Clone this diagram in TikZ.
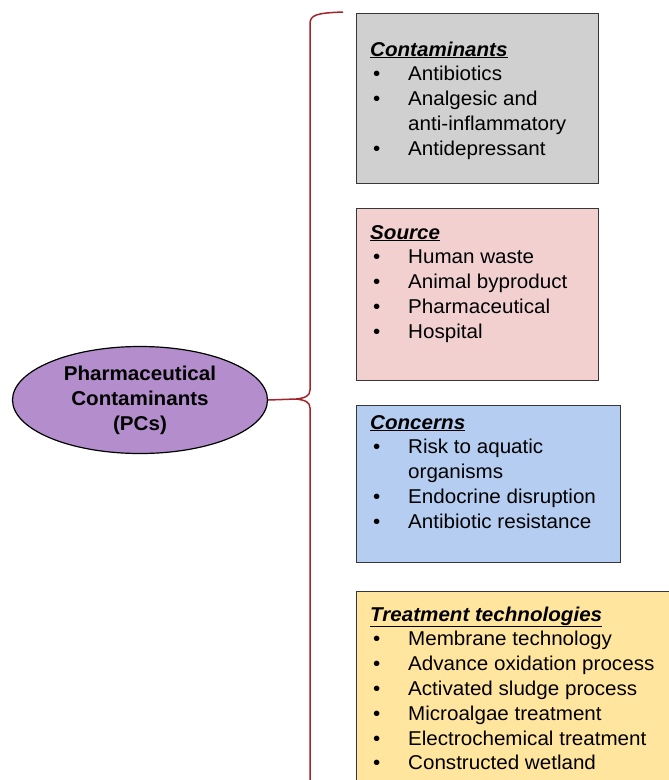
\documentclass[tikz,border=0pt]{standalone}
\usepackage{fontspec}
\setmainfont{Liberation Sans}[FakeStretch=1.03]
\usetikzlibrary{positioning,shapes.geometric}

\definecolor{pcpurple}{RGB}{179,141,204}
\definecolor{boxgray}{RGB}{208,208,208}
\definecolor{boxpink}{RGB}{242,208,208}
\definecolor{boxblue}{RGB}{180,205,240}
\definecolor{boxyellow}{RGB}{255,229,158}
\definecolor{bracered}{RGB}{163,36,42}
\definecolor{edgegray}{RGB}{55,55,55}

\newcommand{\btitle}[1]{\underline{\textbf{\textit{#1}}}\par}
\newcommand{\bitem}[1]{\hspace*{3pt}\makebox[35pt][l]{\textbullet}#1\par}
\newcommand{\bmore}[1]{\hspace*{38pt}#1\par}

\tikzset{
  catbox/.style={draw=edgegray, line width=1.4pt, anchor=north west, inner sep=0pt},
  cattext/.style={anchor=base west, inner sep=0pt, font=\fontsize{20}{24.8}\selectfont},
  brace/.style={draw=bracered, line width=1.5pt}
}

\begin{document}
\begin{tikzpicture}[x=1pt,y=-1pt]

    \useasboundingbox (0,0) rectangle (669,780);
    \clip (0,0) rectangle (669,780); %page frame

    % central ellipse
    \node[ellipse, draw, line width=1.2pt, fill=pcpurple, minimum width=255pt,
          minimum height=107pt, inner sep=0pt, align=center,
          font=\bfseries\fontsize{20}{25}\selectfont] (pc) at (140,400)
      {Pharmaceutical\\Contaminants\\(PCs)};

    % category boxes
    \node[catbox, fill=boxgray, minimum width=242pt, minimum height=170pt] (contam) at (356,13) {};
    \node[catbox, fill=boxpink, minimum width=242pt, minimum height=172pt] (source) at (356,208) {};
    \node[catbox, fill=boxblue, minimum width=264pt, minimum height=157pt] (concern) at (356,405) {};
    \node[catbox, fill=boxyellow, minimum width=340pt, minimum height=220pt] (treat) at (356,591) {};

    \node[cattext] (contamtxt) at ([xshift=14pt,yshift=-43pt]contam.north west)
      {\parbox[t]{230pt}{\btitle{Contaminants}
        \bitem{Antibiotics}
        \bitem{Analgesic and}
        \bmore{anti-inflammatory}
        \bitem{Antidepressant}}};

    \node[cattext] (sourcetxt) at ([xshift=14pt,yshift=-31pt]source.north west)
      {\parbox[t]{230pt}{\btitle{Source}
        \bitem{Human waste}
        \bitem{Animal byproduct}
        \bitem{Pharmaceutical}
        \bitem{Hospital}}};

    \node[cattext] (concerntxt) at ([xshift=14pt,yshift=-24pt]concern.north west)
      {\parbox[t]{250pt}{\btitle{Concerns}
        \bitem{Risk to aquatic}
        \bmore{organisms}
        \bitem{Endocrine disruption}
        \bitem{Antibiotic resistance}}};

    \node[cattext] (treattxt) at ([xshift=14pt,yshift=-30pt]treat.north west)
      {\parbox[t]{300pt}{\btitle{Treatment technologies}
        \bitem{Membrane technology}
        \bitem{Advance oxidation process}
        \bitem{Activated sludge process}
        \bitem{Microalgae treatment}
        \bitem{Electrochemical treatment}
        \bitem{Constructed wetland}}};

    % curly brace from ellipse to boxes
    \coordinate (tip) at (296,399);
    \coordinate (bracetop) at (343,12);
    \coordinate (bracebot) at (310,800);
    \draw[brace] (pc.east) -- (tip);
    \draw[brace, line join=round] (tip) .. controls (305,398) and (310,396) .. (310,390)
      -- (310,24) .. controls (310,15) and (316,13) .. (bracetop);
    \draw[brace, line join=round] (tip) .. controls (305,400) and (310,402) .. (310,408)
      -- (bracebot);

  \end{tikzpicture}
\end{document}
